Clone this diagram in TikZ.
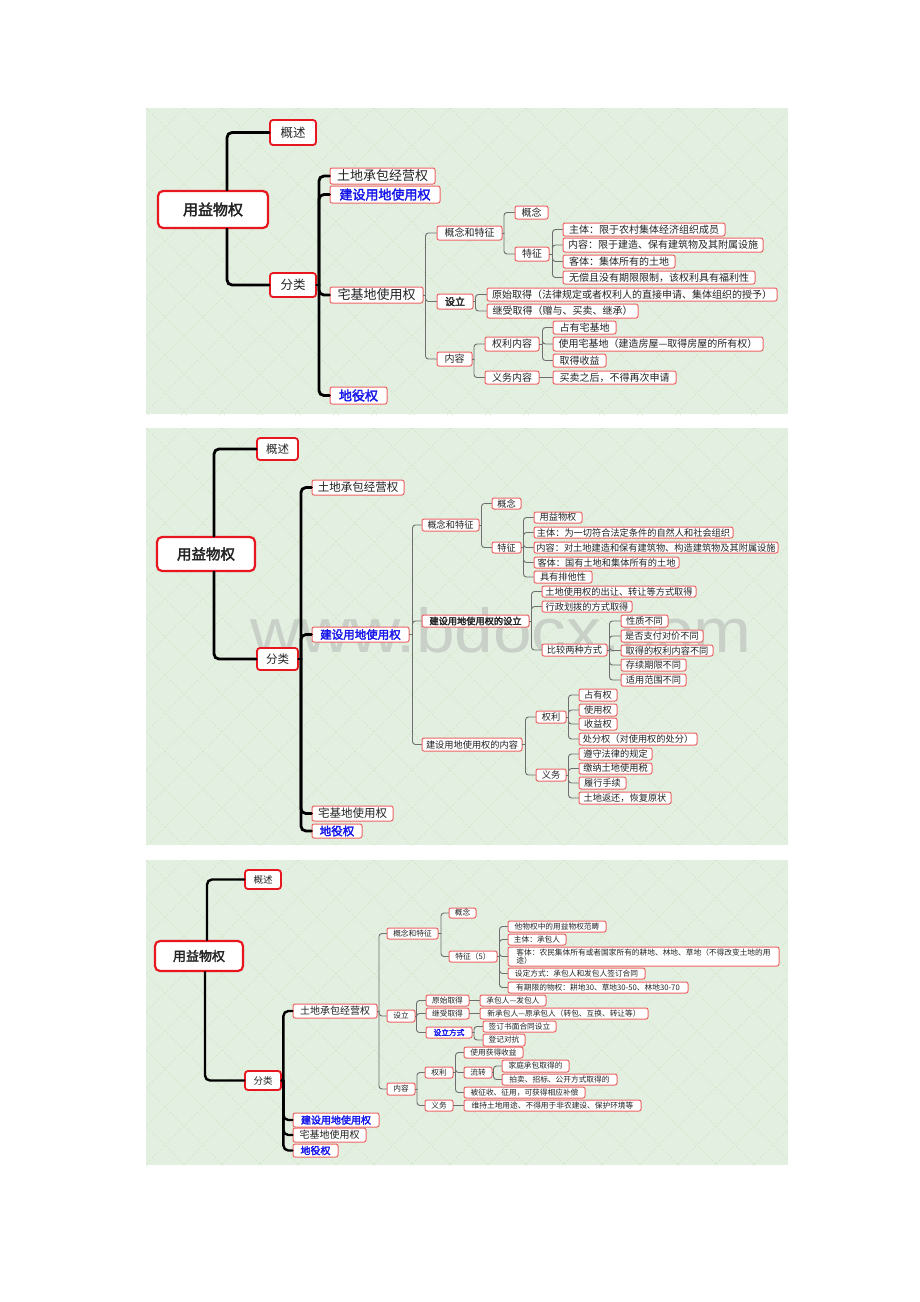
\documentclass[tikz,border=0pt]{standalone}
\usepackage{fontspec}
\setmainfont{Noto Sans CJK SC}[AutoFakeBold=2.5]
\newfontfamily\wmfont{Liberation Sans}
\definecolor{redA}{RGB}{232,22,30}
\definecolor{redB}{RGB}{240,100,100}
\definecolor{blueT}{RGB}{22,22,235}
\definecolor{txt}{RGB}{35,35,35}
\definecolor{lineg}{RGB}{110,110,110}
\definecolor{bgc}{RGB}{226,239,225}
\definecolor{patc}{RGB}{212,230,196}
\definecolor{wmc}{RGB}{200,208,200}
\newcommand\Bx[6][]{\node[sbox,#1,minimum width={(#5-#3)*1pt},minimum height={(#6-#4)*1pt}] (#2) at ({(#3+#5)/2},{(#4+#6)/2})}
\newcommand\lk[4][thn]{\draw[#1] (#3.west) -| ([xshift=#4pt]#2.east); \draw[#1] (#2.east) -- ([xshift=#4pt]#2.east);}
\newcommand\panelbg[2]{\fill[bgc] (146,#1) rectangle (788,#2);
 \begin{scope}\clip (146,#1) rectangle (788,#2);
 \foreach \k in {-12,...,28}{\draw[pat] ({146+38*\k},#1) -- ++(450,450); \draw[pat] ({146+38*\k},#1) -- ++(-450,450);}
 \end{scope}}
\begin{document}
\begin{tikzpicture}[x=1pt,y=-1pt,
 sbox/.style={draw=redB, line width=1pt, rounded corners=2pt, fill=white, inner sep=0pt, text=txt},
 rootb/.style={draw=redA, line width=2.2pt, rounded corners=5pt},
 lone/.style={draw=redA, line width=1.8pt, rounded corners=3pt},
 bt/.style={text=blueT},
 pat/.style={patc, line width=0.6pt, dash pattern=on 2pt off 2pt},
 thk/.style={black, line width=2.8pt, rounded corners=5pt, line cap=round},
 thn/.style={lineg, line width=0.9pt, rounded corners=3pt, line cap=round},
 rA/.style={font=\fontsize{15}{16}\selectfont},
 lA/.style={font=\fontsize{12.5}{14}\selectfont},
 mA/.style={font=\fontsize{13}{14}\selectfont},
 sA/.style={font=\fontsize{10}{11}\selectfont},
 rB/.style={font=\fontsize{14.5}{16}\selectfont},
 lB/.style={font=\fontsize{11.5}{13}\selectfont},
 mB/.style={font=\fontsize{11.5}{13}\selectfont},
 sB/.style={font=\fontsize{9.2}{10}\selectfont},
 rC/.style={font=\fontsize{13}{14}\selectfont},
 lC/.style={font=\fontsize{9.5}{10}\selectfont},
 mC/.style={font=\fontsize{10}{11}\selectfont},
 sC/.style={font=\fontsize{7.7}{8.6}\selectfont},
]
\useasboundingbox (0,0) rectangle (920,1302);
\fill[white] (0,0) rectangle (920,1302);
\panelbg{108}{414}
\panelbg{428}{845}
\panelbg{860}{1165}
% watermark
\node[anchor=base west, inner sep=0, text=wmc, font=\fontsize{62}{62}\wmfont] (wm) at (250,652) {\scalebox{1.12}[1]{www.bdocx.com}};

%%%%%%%% Panel 1
\Bx[rootb,rA]{aroot}{158}{191}{268}{228}{\textbf{用益物权}};
\Bx[lone,lA]{ags}{270}{120}{316}{145}{概述};
\Bx[lone,lA]{afl}{270}{273}{316}{297}{分类};
\Bx[mA]{atd}{330}{168}{435}{184}{土地承包经营权};
\Bx[mA,bt]{ajs}{330}{186}{440}{203}{\textbf{建设用地使用权}};
\Bx[mA]{azj}{330}{287}{423}{303}{宅基地使用权};
\Bx[mA,bt]{ady}{330}{387}{387}{404}{\textbf{地役权}};
\Bx[sA]{ant}{437}{226}{502}{240}{概念和特征};
\Bx[sA]{agn}{515}{206}{548}{219}{概念};
\Bx[sA]{atz}{515}{247}{549}{261}{特征};
\Bx[sA]{atz1}{563}{223}{725}{236}{主体：限于农村集体经济组织成员};
\Bx[sA]{atz2}{563}{238}{763}{252}{内容：限于建造、保有建筑物及其附属设施};
\Bx[sA]{atz3}{563}{255}{675}{268}{客体：集体所有的土地};
\Bx[sA]{atz4}{563}{271}{755}{284}{无偿且没有期限限制，该权利具有福利性};
\Bx[sA]{asl}{437}{294}{473}{309}{\textbf{设立}};
\Bx[sA]{asl1}{487}{288}{777}{301}{原始取得（法律规定或者权利人的直接申请、集体组织的授予）};
\Bx[sA]{asl2}{487}{304}{638}{318}{继受取得（赠与、买卖、继承）};
\Bx[sA]{anr}{437}{352}{472}{366}{内容};
\Bx[sA]{aql}{485}{337}{539}{351}{权利内容};
\Bx[sA]{ayw}{485}{371}{539}{384}{义务内容};
\Bx[sA]{aq1}{553}{321}{616}{334}{占有宅基地};
\Bx[sA]{aq2}{553}{337}{763}{351}{使用宅基地（建造房屋—取得房屋的所有权）};
\Bx[sA]{aq3}{553}{354}{606}{367}{取得收益};
\Bx[sA]{ay1}{553}{371}{676}{384}{买卖之后，不得再次申请};
\draw[thk] ([xshift=14pt]aroot.north) |- (ags.west);
\draw[thk] ([xshift=14pt]aroot.south) |- (afl.west);
\foreach \c in {atd,ajs,azj,ady}{\lk[thk]{afl}{\c}{2}}
\foreach \c in {ant,asl,anr}{\lk{azj}{\c}{2}}
\foreach \c in {agn,atz}{\lk{ant}{\c}{1.5}}
\foreach \c in {atz1,atz2,atz3,atz4}{\lk{atz}{\c}{3}}
\foreach \c in {asl1,asl2}{\lk{asl}{\c}{2}}
\foreach \c in {aql,ayw}{\lk{anr}{\c}{1.5}}
\foreach \c in {aq1,aq2,aq3}{\lk{aql}{\c}{3}}
\draw[thn] (ayw.east) -- (ay1.west);

%%%%%%%% Panel 2
\Bx[rootb,rB]{broot}{157}{537}{255}{571}{\textbf{用益物权}};
\Bx[lone,lB]{bgs}{257}{438}{298}{460}{概述};
\Bx[lone,lB]{bfl}{257}{648}{298}{670}{分类};
\Bx[mB]{btd}{312}{480}{404}{495}{土地承包经营权};
\Bx[mB,bt]{bjs}{312}{627}{409}{642}{\textbf{建设用地使用权}};
\Bx[mB]{bzj}{312}{806}{393}{821}{宅基地使用权};
\Bx[mB,bt]{bdy}{312}{824}{362}{838}{\textbf{地役权}};
\Bx[sB]{bnt}{422}{519}{479}{531}{概念和特征};
\Bx[sB]{bgn}{492}{498}{521}{509}{概念};
\Bx[sB]{btz}{492}{542}{521}{553}{特征};
\Bx[sB]{bt1}{534}{512}{582}{523}{用益物权};
\Bx[sB]{bt2}{534}{527}{733}{538}{主体：为一切符合法定条件的自然人和社会组织};
\Bx[sB]{bt3}{534}{542}{778}{553}{内容：对土地建造和保有建筑物、构造建筑物及其附属设施};
\Bx[sB]{bt4}{534}{557}{679}{568}{客体：国有土地和集体所有的土地};
\Bx[sB]{bt5}{534}{571}{592}{583}{具有排他性};
\Bx[sB]{bsl}{422}{615}{529}{627}{\textbf{建设用地使用权的设立}};
\Bx[sB]{bs1}{542}{586}{696}{597}{土地使用权的出让、转让等方式取得};
\Bx[sB]{bs2}{542}{601}{632}{612}{行政划拨的方式取得};
\Bx[sB]{bbj}{542}{644}{607}{656}{比较两种方式};
\Bx[sB]{bb1}{621}{615}{668}{627}{性质不同};
\Bx[sB]{bb2}{621}{630}{703}{642}{是否支付对价不同};
\Bx[sB]{bb3}{621}{645}{713}{656}{取得的权利内容不同};
\Bx[sB]{bb4}{621}{659}{686}{671}{存续期限不同};
\Bx[sB]{bb5}{621}{674}{686}{686}{适用范围不同};
\Bx[sB]{bnr}{422}{738}{522}{751}{建设用地使用权的内容};
\Bx[sB]{bql}{536}{711}{566}{723}{权利};
\Bx[sB]{byw}{536}{769}{566}{781}{义务};
\Bx[sB]{bq1}{579}{689}{617}{701}{占有权};
\Bx[sB]{bq2}{579}{704}{617}{716}{使用权};
\Bx[sB]{bq3}{579}{718}{617}{730}{收益权};
\Bx[sB]{bq4}{579}{733}{697}{745}{处分权（对使用权的处分）};
\Bx[sB]{by1}{579}{748}{652}{760}{遵守法律的规定};
\Bx[sB]{by2}{579}{763}{652}{774}{缴纳土地使用税};
\Bx[sB]{by3}{579}{777}{626}{789}{履行手续};
\Bx[sB]{by4}{579}{792}{671}{804}{土地返还，恢复原状};
\draw[thk] ([xshift=8pt]broot.north) |- (bgs.west);
\draw[thk] ([xshift=8pt]broot.south) |- (bfl.west);
\foreach \c in {btd,bjs,bzj,bdy}{\lk[thk]{bfl}{\c}{2}}
\foreach \c in {bnt,bsl,bnr}{\lk{bjs}{\c}{3}}
\foreach \c in {bgn,btz}{\lk{bnt}{\c}{2}}
\foreach \c in {bt1,bt2,bt3,bt4,bt5}{\lk{btz}{\c}{2}}
\foreach \c in {bs1,bs2,bbj}{\lk{bsl}{\c}{2}}
\foreach \c in {bb1,bb2,bb3,bb4,bb5}{\lk{bbj}{\c}{2}}
\foreach \c in {bql,byw}{\lk{bnr}{\c}{3}}
\foreach \c in {bq1,bq2,bq3,bq4}{\lk{bql}{\c}{2}}
\foreach \c in {by1,by2,by3,by4}{\lk{byw}{\c}{2}}

%%%%%%%% Panel 3
\Bx[rootb,rC]{croot}{155}{941}{243}{971}{\textbf{用益物权}};
\Bx[lone,lC]{cgs}{245}{870}{281}{889}{概述};
\Bx[lone,lC]{cfl}{245}{1071}{281}{1090}{分类};
\Bx[mC]{ctd}{293}{1004}{377}{1018}{土地承包经营权};
\Bx[mC,bt]{cjs}{293}{1113}{379}{1127}{\textbf{建设用地使用权}};
\Bx[mC]{czj}{293}{1128}{366}{1142}{宅基地使用权};
\Bx[mC,bt]{cdy}{293}{1144}{338}{1157}{\textbf{地役权}};
\Bx[sC]{cnt}{387}{928}{438}{939}{概念和特征};
\Bx[sC]{cgn}{449}{908}{476}{918}{概念};
\Bx[sC]{ctz}{449}{951}{497}{962}{特征（5）};
\Bx[sC]{ct1}{508}{921}{606}{932}{他物权中的用益物权范畴};
\Bx[sC]{ct2}{508}{934}{566}{945}{主体：承包人};
\Bx[sC,align=left]{ct3}{508}{947}{779}{966}{客体：农民集体所有或者国家所有的耕地、林地、草地（不得改变土地的用\\途）};
\Bx[sC]{ct4}{508}{968}{645}{979}{设定方式：承包人和发包人签订合同};
\Bx[sC]{ct5}{508}{982}{688}{993}{有期限的物权：耕地30、草地30-50、林地30-70};
\Bx[sC]{csl}{387}{1010}{415}{1022}{设立};
\Bx[sC]{cs1}{426}{995}{469}{1006}{原始取得};
\Bx[sC]{cs2}{426}{1008}{469}{1019}{继受取得};
\Bx[sC,bt]{cs3}{426}{1027}{472}{1038}{\textbf{设立方式}};
\Bx[sC]{cs11}{480}{995}{546}{1006}{承包人—发包人};
\Bx[sC]{cs21}{480}{1008}{648}{1019}{新承包人—原承包人（转包、互换、转让等）};
\Bx[sC]{cs31}{483}{1021}{556}{1032}{签订书面合同设立};
\Bx[sC]{cs32}{483}{1034}{525}{1046}{登记对抗};
\Bx[sC]{cnr}{387}{1083}{415}{1095}{内容};
\Bx[sC]{cql}{425}{1067}{453}{1078}{权利};
\Bx[sC]{cyw}{425}{1100}{453}{1111}{义务};
\Bx[sC]{cq1}{464}{1047}{523}{1058}{使用获得收益};
\Bx[sC]{clz}{464}{1067}{492}{1078}{流转};
\Bx[sC]{cl1}{502}{1060}{569}{1072}{家庭承包取得的};
\Bx[sC]{cl2}{502}{1074}{617}{1085}{拍卖、招标、公开方式取得的};
\Bx[sC]{cq3}{464}{1087}{585}{1098}{被征收、征用，可获得相应补偿};
\Bx[sC]{cy1}{464}{1100}{641}{1111}{维持土地用途、不得用于非农建设、保护环境等};
\draw[thk,line width=2.4pt] ([xshift=8pt]croot.north) |- (cgs.west);
\draw[thk,line width=2.4pt] ([xshift=6pt]croot.south) |- (cfl.west);
\foreach \c in {ctd,cjs,czj,cdy}{\lk[thk,line width=2.4pt]{cfl}{\c}{1.5}}
\foreach \c in {cnt,csl,cnr}{\lk{ctd}{\c}{1.5}}
\foreach \c in {cgn,ctz}{\lk{cnt}{\c}{2.5}}
\foreach \c in {ct1,ct2,ct3,ct4,ct5}{\lk{ctz}{\c}{2}}
\foreach \c in {cs1,cs2,cs3}{\lk{csl}{\c}{1}}
\draw[thn] (cs1.east) -- (cs11.west);
\draw[thn] (cs2.east) -- (cs21.west);
\foreach \c in {cs31,cs32}{\lk{cs3}{\c}{1.5}}
\foreach \c in {cql,cyw}{\lk{cnr}{\c}{1.5}}
\foreach \c in {cq1,clz,cq3}{\lk{cql}{\c}{2}}
\foreach \c in {cl1,cl2}{\lk{clz}{\c}{1}}
\draw[thn] (cyw.east) -- (cy1.west);
\end{tikzpicture}
\end{document}
